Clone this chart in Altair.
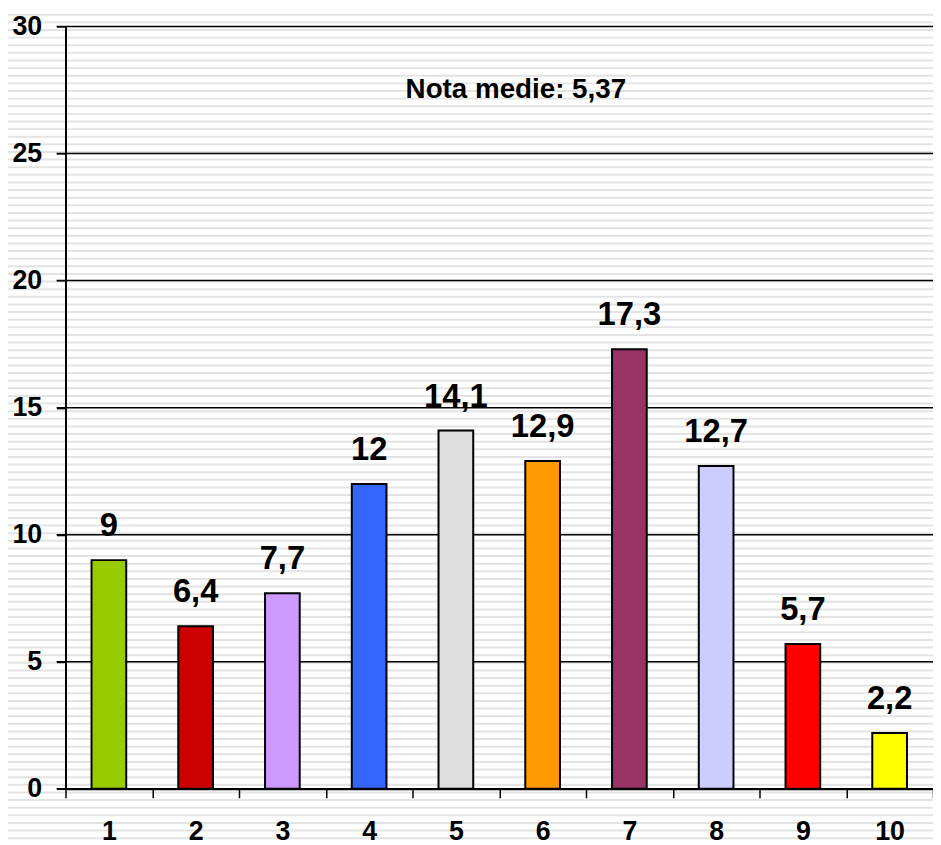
import altair as alt
import pandas as pd

# ---- data ----
categories = ["1", "2", "3", "4", "5", "6", "7", "8", "9", "10"]
values = [9, 6.4, 7.7, 12, 14.1, 12.9, 17.3, 12.7, 5.7, 2.2]
bar_colors = ["#99cc00", "#cc0000", "#cc99ff", "#3366ff", "#dddddd",
              "#ff9900", "#993366", "#ccccff", "#ff0000", "#ffff00"]
y_ticks = [0, 5, 10, 15, 20, 25, 30]
annotation = ["Nota medie: 5,37"]

# decorative background stripes (Excel-like pattern fill)
stripe_values = [round(25.06 + 0.3 * k, 3) for k in range(-92, 21)]

FONT = "Liberation Sans"

bars_df = pd.DataFrame({"cat": categories, "v": values})
grid_df = pd.DataFrame({"g": y_ticks})
stripe_df = pd.DataFrame({"s": stripe_values})
note_df = pd.DataFrame({"t": annotation, "cat": ["6"], "y": [27.5]})

xscale = alt.Scale(domain=categories, paddingInner=0, paddingOuter=0)
yscale = alt.Scale(domain=[0, 30], nice=False, zero=True)

yaxis = alt.Axis(values=y_ticks, grid=False, tickSize=9, tickWidth=1.5,
                 tickColor="black", domainColor="black", domainWidth=2,
                 labelFont=FONT, labelFontWeight="bold", labelFontSize=27,
                 labelColor="black", labelPadding=15, labelOverlap=False,
                 title=None, zindex=1)
xaxis = alt.Axis(labelAngle=0, tickBand="extent", tickSize=9, tickWidth=1.5,
                 tickColor="black", domainColor="black", domainWidth=2,
                 labelFont=FONT, labelFontWeight="bold", labelFontSize=27,
                 labelColor="black", labelPadding=21, title=None, zindex=1)

stripes = alt.Chart(stripe_df).mark_rule(color="#e3e3e3", strokeWidth=2).encode(
    y=alt.Y("s:Q", scale=yscale, axis=yaxis, title=None),
    x=alt.value(-58),
    x2=alt.value(875),
)

grid = alt.Chart(grid_df).mark_rule(color="black", strokeWidth=1.5).encode(
    y=alt.Y("g:Q", scale=yscale, axis=yaxis, title=None),
    x=alt.value(-9),
    x2=alt.value(875),
)

bars = alt.Chart(bars_df).mark_bar(
    width=alt.RelativeBandSize(0.4), stroke="black", strokeWidth=2
).encode(
    x=alt.X("cat:N", scale=xscale, sort=categories, title=None, axis=xaxis),
    y=alt.Y("v:Q", scale=yscale, title=None, axis=yaxis),
    color=alt.Color("cat:N", scale=alt.Scale(domain=categories, range=bar_colors),
                    legend=None),
)

labels = alt.Chart(bars_df).transform_calculate(
    lab="replace(toString(datum.v), '.', ',')"
).mark_text(
    font=FONT, fontWeight="bold", fontSize=33, color="black",
    baseline="alphabetic", dy=-24
).encode(
    x=alt.X("cat:N", scale=xscale, sort=categories, title=None, axis=xaxis),
    y=alt.Y("v:Q", scale=yscale, title=None, axis=yaxis),
    text="lab:N",
)

note = alt.Chart(note_df).mark_text(
    font=FONT, fontWeight="bold", fontSize=28, color="black",
    baseline="middle", dx=-27
).encode(
    x=alt.X("cat:N", scale=xscale, sort=categories, title=None, axis=xaxis),
    y=alt.Y("y:Q", scale=yscale, title=None, axis=yaxis),
    text="t:N",
)

chart = alt.layer(stripes, grid, bars, labels, note).properties(
    width=875,
    height=769,
    autosize=alt.AutoSizeParams(type="none"),
    padding={"left": 58, "top": 15, "right": 0, "bottom": 50},
    background="white",
).configure_view(stroke=None)

chart.save("out.html", embed_options={"renderer": "svg", "actions": False})
